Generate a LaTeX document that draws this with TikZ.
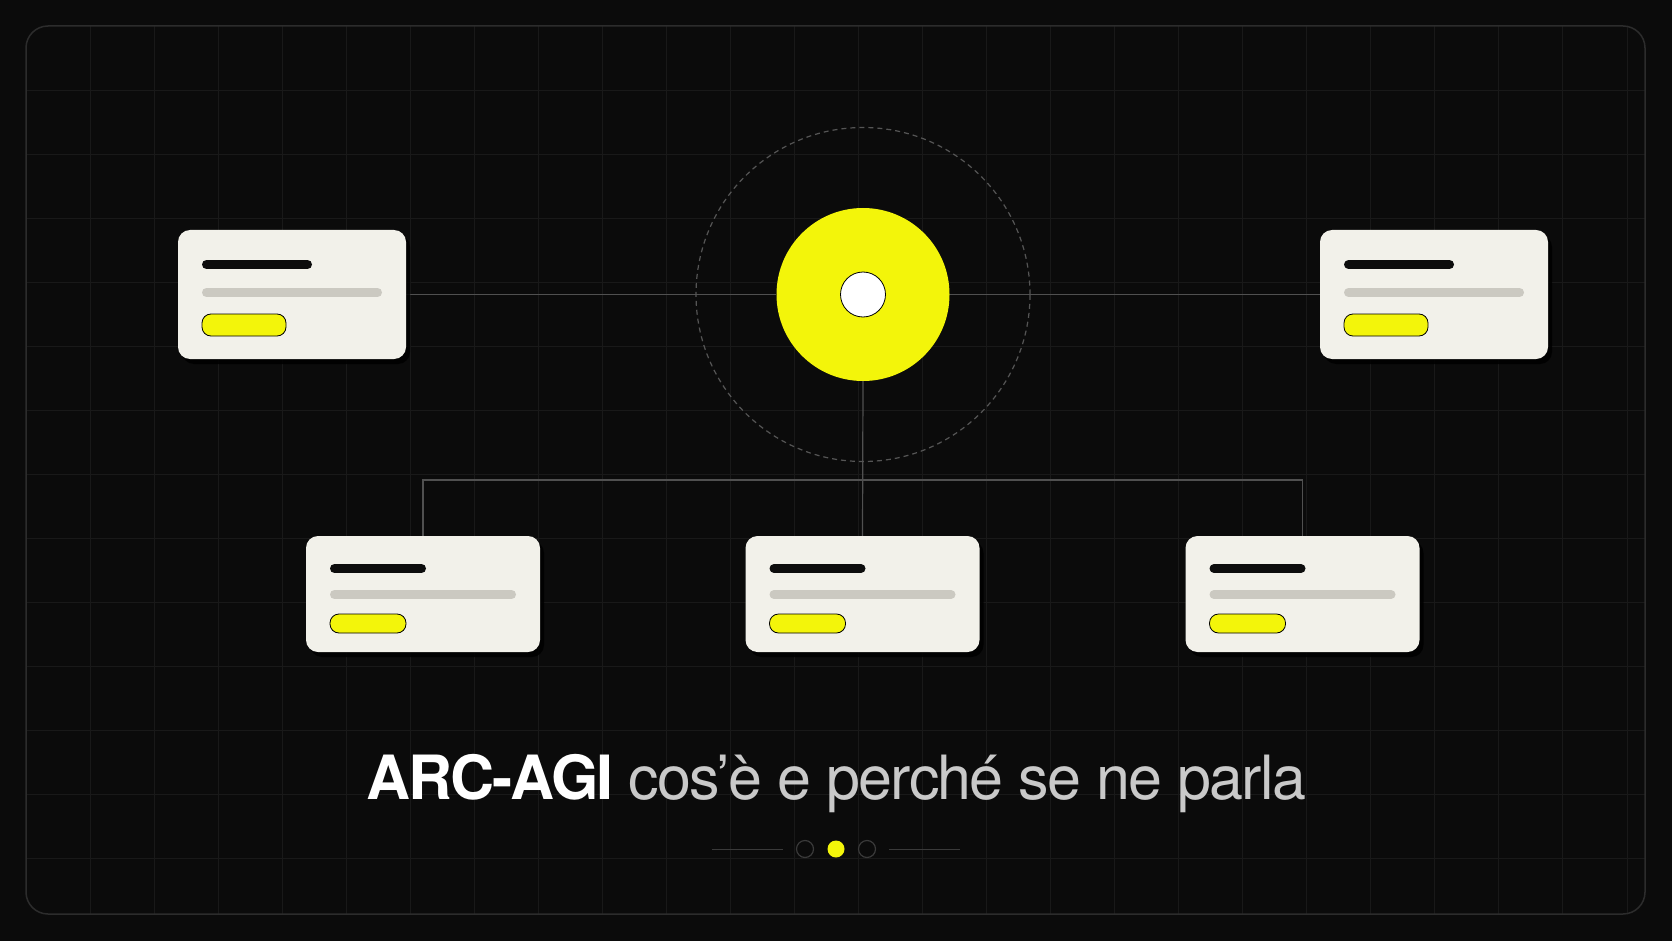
\documentclass[tikz,border=0pt]{standalone}
\usepackage{fontspec}
\setmainfont{TeX Gyre Heros}
\usetikzlibrary{calc,shadows,backgrounds}
\definecolor{bgc}{HTML}{0B0B0B}
\definecolor{framec}{HTML}{2C2C2C}
\definecolor{gridc}{HTML}{191919}
\definecolor{linkc}{HTML}{505050}
\definecolor{dashc}{HTML}{555555}
\definecolor{cardc}{HTML}{F2F1EA}
\definecolor{barc}{HTML}{CBC9C1}
\definecolor{yelc}{HTML}{F3F50A}
\definecolor{titlegray}{HTML}{C9C9C9}
\definecolor{dotc}{HTML}{3A3A3A}
\tikzset{
  card/.style={rectangle, rounded corners=12pt, fill=cardc, inner sep=0pt, outer sep=0pt,
    general shadow={fill=black, opacity=0.85, shadow xshift=4pt, shadow yshift=-5pt}},
  gridline/.style={draw=gridc, line width=1pt},
  link/.style={draw=linkc, line width=1.2pt},
  darkbar/.style={draw=black!95, line width=9pt, line cap=round},
  lightbar/.style={draw=barc, line width=9pt, line cap=round},
  pill/.style={fill=yelc, draw=black, line width=0.8pt, rounded corners=9pt},
  pagedot/.style={circle, minimum size=17pt, inner sep=0pt},
}
\newcommand\cardbars[8]{%
  \draw[darkbar] ($(#1.north west)+(28.5,#2)$) -- ($(#1.north west)+({24+#6-4.5},#2)$);
  \draw[lightbar] ($(#1.north west)+(28.5,#3)$) -- ($(#1.north west)+({24+#7-4.5},#3)$);
  \draw[pill] ($(#1.north west)+(24,{#4-#5/2})$) rectangle ++(#8,#5);
}
\begin{document}
\begin{tikzpicture}[x=1pt,y=-1pt]
\useasboundingbox (0,0) rectangle (1672,941);
\begin{scope}[on background layer]
  \fill[bgc] (0,0) rectangle (1672,941);
  \begin{scope}
    \clip[rounded corners=22pt] (26,26) rectangle (1645,914);
    \foreach \i in {0,...,25} \draw[gridline] ({26+64.04*\i},26) -- ({26+64.04*\i},914);
    \foreach \j in {0,...,13} \draw[gridline] (26,{26+64.04*\j}) -- (1645,{26+64.04*\j});
  \end{scope}
  \draw[framec, line width=1.5pt, rounded corners=22pt] (26,26) rectangle (1645,914);
\end{scope}

% hub
\node[circle, draw=dashc, dash pattern=on 5pt off 4pt, line width=1.2pt, minimum size=334pt, inner sep=0pt] (orbit) at (863,294.5) {};
\node[circle, fill=yelc, minimum size=173pt, inner sep=0pt] (hub) at (863,294.5) {};
\node[circle, fill=white, draw=black, line width=0.8pt, minimum size=45pt, inner sep=0pt] (core) at (hub) {};

% cards
\node[card, minimum width=228pt, minimum height=129pt] (tl) at (292,294.5) {};
\node[card, minimum width=228pt, minimum height=129pt] (tr) at (1434,294.5) {};
\node[card, minimum width=234pt, minimum height=116pt] (bl) at (423,594) {};
\node[card, minimum width=234pt, minimum height=116pt] (bm) at (862.5,594) {};
\node[card, minimum width=234pt, minimum height=116pt] (br) at (1302.5,594) {};

\cardbars{tl}{34.5}{62.5}{95}{22}{110}{180}{84}
\cardbars{tr}{34.5}{62.5}{95}{22}{110}{180}{84}
\cardbars{bl}{32.5}{58.5}{87.5}{19}{96}{186}{76}
\cardbars{bm}{32.5}{58.5}{87.5}{19}{96}{186}{76}
\cardbars{br}{32.5}{58.5}{87.5}{19}{96}{186}{76}

% connectors
\coordinate (split) at (863,480);
\begin{scope}[on background layer]
  \draw[link] (tl.east) -- (hub.west);
  \draw[link] (hub.east) -- (tr.west);
  \draw[link] (hub.south) -- (bm.north);
  \draw[link] (bl.north) |- (split) -| (br.north);
\end{scope}

% title
\node[anchor=base, inner sep=0pt, text=titlegray, font=\fontsize{61}{70}\selectfont\addfontfeature{LetterSpace=-3}] (title) at (836,799)
  {\textcolor{white}{\bfseries\addfontfeature{LetterSpace=-3}ARC-AGI} cos’è e perché se ne parla};

% pagination
\node[pagedot, draw=dotc, line width=1.2pt] (d1) at (805,849) {};
\node[pagedot, fill=yelc] (d2) at (836,849) {};
\node[pagedot, draw=dotc, line width=1.2pt] (d3) at (867,849) {};
\coordinate (la) at (712,849);
\coordinate (rb) at (960,849);
\draw[draw=dotc, line width=1pt] (la) -- ($(d1.west)+(-13,0)$);
\draw[draw=dotc, line width=1pt] ($(d3.east)+(13,0)$) -- (rb);
\end{tikzpicture}
\end{document}
